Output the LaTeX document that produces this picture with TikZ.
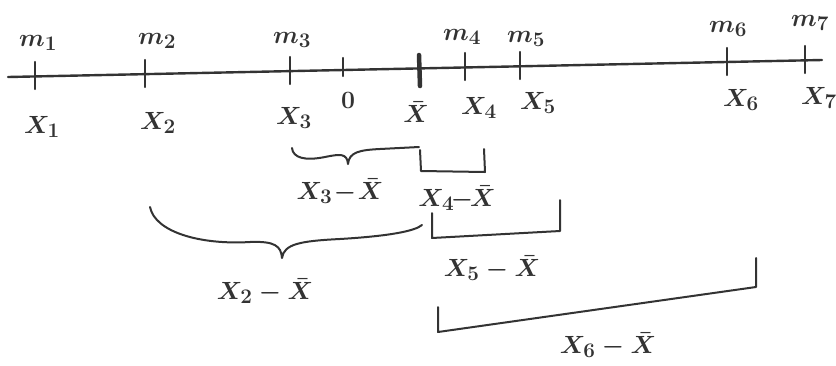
\documentclass[tikz,border=0pt]{standalone}
\usepackage{fontspec}
\begin{document}
\begin{tikzpicture}[x=1pt,y=-1pt,
  ink/.style={draw=black!80,line width=2.4pt,line cap=round,line join=round},
  tickmark/.style={ink,line width=2.2pt},
  meanmark/.style={ink,line width=4.5pt},
  lbl/.style={text=black!80,font=\fontsize{31}{34}\selectfont\boldmath,inner sep=0pt},
  toplbl/.style={text=black!80,font=\fontsize{28}{30}\selectfont\boldmath,inner sep=0pt}]
\useasboundingbox (0,0) rectangle (836,365);

% number line
\coordinate (L) at (8,77);
\coordinate (R) at (822,60);
\draw[ink] (L) -- (R);

% tick marks: top / bottom end of each
\foreach \n/\x/\y in {1/35/76, 2/145/74, 3/290/71, 4/465/67, 5/520/66, 6/727/62, 7/805/60}{
  \coordinate (t\n) at (\x,\y-14);
  \coordinate (b\n) at (\x,\y+13);
  \draw[tickmark] (t\n) -- (b\n);
}
\coordinate (z1) at (343,58);
\coordinate (z2) at (343,76);
\draw[tickmark] (z1) -- (z2);
\coordinate (xb1) at (419,55);
\coordinate (xb2) at (420,86);
\draw[meanmark] (xb1) -- (xb2);

% labels above the line
\node[toplbl] (m1) at (38,43) {$m_1$};
\node[toplbl] (m2) at (157,41) {$m_2$};
\node[toplbl] (m3) at (292,40) {$m_3$};
\node[toplbl] (m4) at (462,37) {$m_4$};
\node[toplbl] (m5) at (526,39) {$m_5$};
\node[toplbl] (m6) at (728,29) {$m_6$};
\node[toplbl] (m7) at (810,23) {$m_7$};

% labels below the line
\node[lbl] (x1) at (42,127) {$X_1$};
\node[lbl] (x2) at (158,123) {$X_2$};
\node[lbl] (x3) at (294,118) {$X_3$};
\node[lbl] (zero) at (348,100) {$0$};
\node[lbl] (xbar) at (416,112) {$\bar{X}$};
\node[lbl] (x4) at (479,108) {$X_4$};
\node[lbl] (x5) at (538,103) {$X_5$};
\node[lbl] (x6) at (741,100) {$X_6$};
\node[lbl] (x7) at (819,98) {$X_7$};

% X3 - Xbar : brace
\coordinate (c3a) at (292,148);
\coordinate (c3t) at (348,164);
\coordinate (c3b) at (419,147);
\draw[ink,line width=2pt] (c3a) .. controls (293,158) and (305,161) .. (325,157)
  .. controls (340,154) and (347,153) .. (c3t)
  .. controls (349,152) and (360,150) .. (380,149) -- (c3b);
\node[lbl] (d3) at (340,191) {$X_3\!-\!\bar{X}$};

% X4 - Xbar : square bracket
\coordinate (c4a) at (420,150);
\coordinate (c4b) at (421,171);
\coordinate (c4c) at (485,172);
\coordinate (c4d) at (484,149);
\draw[ink,line width=2pt] (c4a) -- (c4b) -- (c4c) -- (c4d);
\node[lbl] (d4) at (457,198) {$X_4\!\!-\!\!\bar{X}$};

% X2 - Xbar : brace
\coordinate (c2a) at (150,207);
\coordinate (c2t) at (282,258);
\coordinate (c2b) at (422,225);
\draw[ink,line width=2pt] (c2a) .. controls (155,232) and (200,245) .. (250,242)
  .. controls (275,241) and (281,246) .. (c2t)
  .. controls (284,244) and (300,241) .. (340,239)
  .. controls (390,236) and (415,231) .. (c2b);
\node[lbl] (d2) at (265,291) {$X_2-\bar{X}$};

% X5 - Xbar : square bracket
\coordinate (c5a) at (432,213);
\coordinate (c5b) at (432,238);
\coordinate (c5c) at (560,231);
\coordinate (c5d) at (560,200);
\draw[ink,line width=2pt] (c5a) -- (c5b) -- (c5c) -- (c5d);
\node[lbl] (d5) at (492,268) {$X_5-\bar{X}$};

% X6 - Xbar : square bracket
\coordinate (c6a) at (438,307);
\coordinate (c6b) at (438,332);
\coordinate (c6c) at (756,287);
\coordinate (c6d) at (756,258);
\draw[ink,line width=2pt] (c6a) -- (c6b) -- (c6c) -- (c6d);
\node[lbl] (d6) at (608,345) {$X_6-\bar{X}$};
\end{tikzpicture}
\end{document}
